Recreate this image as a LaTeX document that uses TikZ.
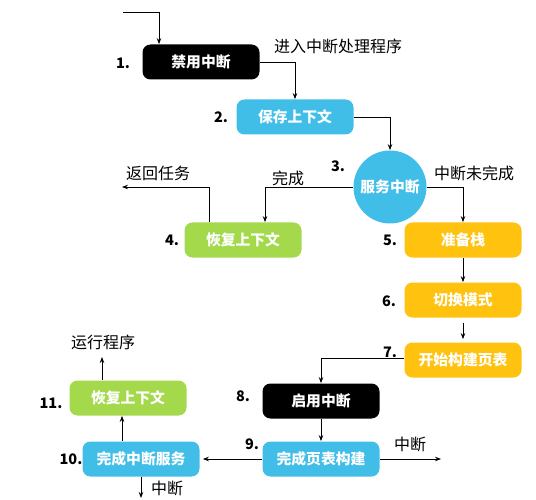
\documentclass[tikz,border=0pt]{standalone}
\usepackage{fontspec}
\newfontfamily\cjk{Noto Sans CJK SC}
\usepackage{tikz}
\usetikzlibrary{arrows.meta}
\definecolor{stepcyan}{RGB}{64,190,232}
\definecolor{stepgreen}{RGB}{163,217,75}
\definecolor{stepyellow}{RGB}{255,194,14}
\tikzset{
	stepbox/.style={rounded corners=8pt, minimum width=117pt, minimum height=35pt,
		inner sep=0pt, text=white, font=\cjk\bfseries\fontsize{14.8}{16}\selectfont},
	stepnum/.style={font=\cjk\bfseries\fontsize{14.5}{16}\selectfont},
	steplabel/.style={font=\cjk\fontsize{16}{18}\selectfont},
}
\begin{document}
\begin{tikzpicture}[x=1pt, y=-1pt, >={Stealth[length=6pt,width=4.5pt]}, line width=0.8pt]
		\useasboundingbox (0,0) rectangle (536,500);
		% steps
		\node[stepbox, fill=black] (disable) at (201,62) {禁用中断};
		\node[stepbox, fill=stepcyan] (save) at (295,117) {保存上下文};
		\node[circle, fill=stepcyan, minimum size=73pt, inner sep=0pt, text=white,
			font=\cjk\bfseries\fontsize{14.8}{16}\selectfont] (serve) at (390,187) {服务中断};
		\node[stepbox, fill=stepgreen] (restore) at (243,240) {恢复上下文};
		\node[stepbox, fill=stepyellow] (stack) at (463,240) {准备栈};
		\node[stepbox, fill=stepyellow] (mode) at (463,300) {切换模式};
		\node[stepbox, fill=stepyellow] (paging) at (463,360) {开始构建页表};
		\node[stepbox, fill=black] (enable) at (321,401) {启用中断};
		\node[stepbox, fill=stepcyan] (built) at (321,459) {完成页表构建};
		\node[stepbox, fill=stepcyan] (finish) at (141,459) {完成中断服务};
		\node[stepbox, fill=stepgreen] (resume) at (128,398) {恢复上下文};
		% numbers
		\node[stepnum] (n1) at (123,63) {1.};
		\node[stepnum] (n2) at (221,117) {2.};
		\node[stepnum] (n3) at (338,166) {3.};
		\node[stepnum] (n4) at (172,240) {4.};
		\node[stepnum] (n5) at (390,240) {5.};
		\node[stepnum] (n6) at (389,301) {6.};
		\node[stepnum] (n7) at (390,352) {7.};
		\node[stepnum] (n8) at (243,396) {8.};
		\node[stepnum] (n9) at (252,444) {9.};
		\node[stepnum] (n10) at (71,459) {10.};
		\node[stepnum] (n11) at (51,403) {11.};
		% free ends
		\coordinate (start) at (123,12);
		\coordinate (back) at (122,187);
		\coordinate (go) at (102,357);
		\coordinate (irqa) at (441,459);
		\coordinate (irqb) at (141,498);
		% connectors
		\draw[->] (start) -| ([xshift=-42pt]disable.north);
		\draw[->] (disable.east) -| (save.north);
		\draw[->] (save.east) -| (serve.north);
		\draw[->] (serve.west) -| ([xshift=22pt]restore.north);
		\draw[->] (serve.east) -| (stack.north);
		\draw[->] ([xshift=-34pt]restore.north) |- (back);
		\draw[->] (stack) -- (mode);
		\draw[->] ([yshift=-5pt]mode.south) -- ([yshift=3pt]paging.north);
		\draw[->] ([yshift=2pt]paging.west) -| (enable.north);
		\draw[->] (enable) -- (built);
		\draw[->] (built.east) -- (irqa);
		\draw[->] (built.west) -- ([xshift=3pt]finish.east);
		\draw[->] (finish.south) -- (irqb);
		\draw[->] ([xshift=-19pt]finish.north) -- ([xshift=-19pt]finish.north |- resume.south);
		\draw[->] ([xshift=-26pt]resume.north) -- (go);
		% labels
		\node[steplabel] (l1) at (338,46) {进入中断处理程序};
		\node[steplabel] (l2) at (288,178) {完成};
		\node[steplabel] (l3) at (158,173) {返回任务};
		\node[steplabel] (l4) at (474,173) {中断未完成};
		\node[steplabel] (l5) at (103,342) {运行程序};
		\node[steplabel] (l6) at (410,444) {中断};
		\node[steplabel] (l7) at (167,488) {中断};
\end{tikzpicture}
\end{document}
